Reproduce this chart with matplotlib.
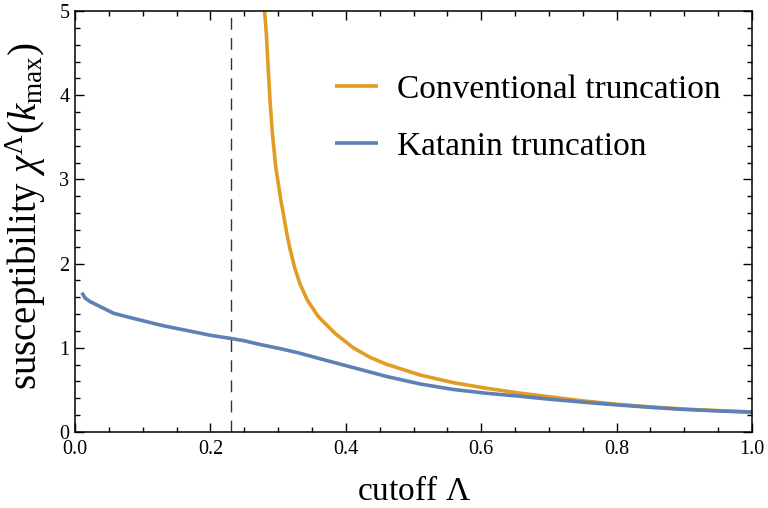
import matplotlib
matplotlib.use("Agg")
import matplotlib.pyplot as plt
from matplotlib.ticker import MultipleLocator

plt.rcParams["font.family"] = ["Liberation Serif", "DejaVu Serif"]
plt.rcParams["mathtext.fontset"] = "custom"
plt.rcParams["mathtext.rm"] = "Liberation Serif"
plt.rcParams["mathtext.it"] = "Liberation Serif:italic"
plt.rcParams["mathtext.bf"] = "Liberation Serif:bold"

# cutoff values and susceptibility for the Katanin truncation
katanin_cutoff = [0.010, 0.015, 0.022, 0.037, 0.057, 0.076, 0.101, 0.126, 0.150,
                  0.175, 0.199, 0.231, 0.249, 0.273, 0.303, 0.330, 0.362, 0.411,
                  0.460, 0.510, 0.559, 0.608, 0.657, 0.700, 0.750, 0.800, 0.850,
                  0.900, 0.950, 1.000]
katanin_chi = [1.655, 1.59, 1.55, 1.49, 1.41, 1.37, 1.32, 1.27, 1.23,
               1.19, 1.15, 1.11, 1.085, 1.04, 0.99, 0.94, 0.87, 0.765,
               0.66, 0.57, 0.505, 0.46, 0.425, 0.39, 0.355, 0.322, 0.293,
               0.268, 0.25, 0.235]

# conventional truncation diverges just below cutoff 0.28
conv_cutoff = [0.2790, 0.2800, 0.2826, 0.2852, 0.2880, 0.2915, 0.2964, 0.2995,
               0.3040, 0.3085, 0.3127, 0.3180, 0.3240, 0.3320, 0.3430, 0.3594,
               0.3840, 0.4110, 0.4357, 0.4604, 0.5096, 0.5588, 0.6080, 0.6570,
               0.6870, 0.7500, 0.8000, 0.8500, 0.9000, 0.9500, 1.0000]
conv_chi = [5.40, 5.00, 4.73, 4.34, 3.94, 3.55, 3.15, 2.99,
            2.755, 2.557, 2.36, 2.16, 1.963, 1.766, 1.568, 1.37,
            1.172, 1.00, 0.887, 0.804, 0.677, 0.586, 0.519, 0.462,
            0.432, 0.37, 0.33, 0.298, 0.272, 0.254, 0.238]

critical_cutoff = 0.231

fig = plt.figure(figsize=(7.68, 5.08), dpi=100)
ax = fig.add_axes([0.0977, 0.1496, 0.8815, 0.8287])

orange = "#E19C24"
blue = "#5E81B5"

ax.plot(conv_cutoff, conv_chi, color=orange, lw=2.6, label="Conventional truncation",
        solid_capstyle="butt", solid_joinstyle="round")
ax.plot(katanin_cutoff, katanin_chi, color=blue, lw=2.6, label="Katanin truncation",
        solid_capstyle="butt", solid_joinstyle="round")
ax.axvline(critical_cutoff, color="#333333", lw=1.0, dashes=(8.5, 6))

ax.set_xlim(0, 1)
ax.set_ylim(0, 5)
ax.xaxis.set_major_locator(MultipleLocator(0.2))
ax.xaxis.set_minor_locator(MultipleLocator(0.05))
ax.yaxis.set_major_locator(MultipleLocator(1))
ax.yaxis.set_minor_locator(MultipleLocator(0.2))
ax.xaxis.set_major_formatter(plt.FuncFormatter(lambda v, p: f"{v:.1f}"))
ax.yaxis.set_major_formatter(plt.FuncFormatter(lambda v, p: f"{v:.0f}"))

ax.tick_params(which="both", direction="in", top=True, right=True,
               labelsize=14.5, width=1.0, color="black")
ax.tick_params(which="major", length=6.5)
ax.tick_params(which="minor", length=3.5)
ax.tick_params(axis="x", pad=6)
ax.tick_params(axis="y", pad=4)
for spine in ax.spines.values():
    spine.set_linewidth(1.1)
    spine.set_color("black")

ax.set_xlabel(r"cutoff $\Lambda$", fontsize=24, labelpad=12)
ax.set_ylabel(r"susceptibility $\chi^{\Lambda}(k_{\mathrm{max}})$", fontsize=28)
ax.yaxis.set_label_coords(-0.040, 0.512)

ax.legend(loc="upper left", bbox_to_anchor=(0.384, 0.849), frameon=False,
          fontsize=24, handlelength=1.3, handletextpad=0.55, labelspacing=0.79,
          borderpad=0, borderaxespad=0)

fig.savefig("out.png", dpi=100)
